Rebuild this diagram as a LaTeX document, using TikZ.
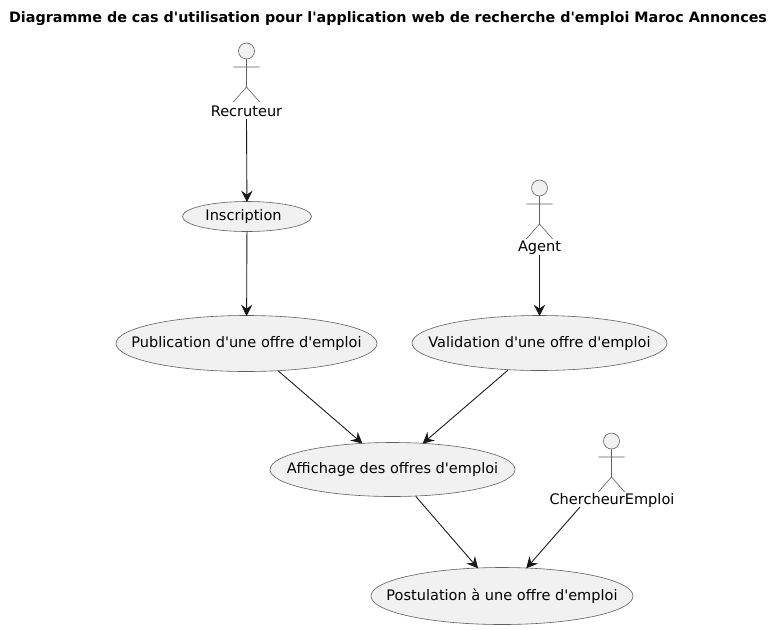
\documentclass[tikz,border=0pt]{standalone}
\usepackage{fontspec}
\setmainfont{DejaVu Sans}[Ligatures=TeXOff]
\usetikzlibrary{shapes.geometric,arrows.meta}
\definecolor{fillc}{HTML}{F1F1F1}
\definecolor{linec}{HTML}{181818}
\definecolor{thinc}{HTML}{606060}
\tikzset{x=0.75pt,y=-0.75pt,
 lbl/.style={font=\fontsize{10.9pt}{13pt}\selectfont,text=black,inner sep=0pt},
 uc/.style={ellipse,draw=thinc,fill=fillc,line width=0.45pt,lbl,inner xsep=-40pt,inner ysep=0pt},
 conn/.style={draw=linec,line width=0.65pt,shorten >=-0.6pt,-{Stealth[length=8.5pt,width=8.5pt,inset=3pt]}},
 actorhead/.style={draw=thinc,fill=fillc,line width=0.45pt},
 actorbody/.style={draw=thinc,line width=0.45pt}}
\newcommand{\actorfig}[2]{%
 \draw[actorhead] (#1,#2) circle[radius=8];
 \draw[actorbody] (#1,#2+8) -- (#1,#2+36) (#1-13.2,#2+16) -- (#1+13.2,#2+16) (#1-13.2,#2+51) -- (#1,#2+36) -- (#1+13.2,#2+51);
}
\begin{document}
\begin{tikzpicture}
\useasboundingbox (0,0) rectangle (784,629);
\fill[white] (0,0) rectangle (784,629);
\node[inner sep=0pt,text=black,font=\fontsize{10.74pt}{13pt}\selectfont\bfseries] (title) at (388,18.5) {Diagramme de cas d'utilisation pour l'application web de recherche d'emploi Maroc Annonces};
\actorfig{246.5}{51}
\actorfig{539.5}{188}
\actorfig{611.5}{441}
\node[lbl] (rec) at (246.5,111) {Recruteur};
\node[lbl] (ag) at (539.5,248) {Agent};
\node[lbl] (ce) at (612,500.5) {ChercheurEmploi};
\coordinate (recout) at (246.5,119);
\coordinate (agout) at (539.5,255);
\coordinate (ceout) at (580,507);
\node[uc,minimum width=129*0.75pt,minimum height=30*0.75pt] (ins) at (247,216.5) {Inscription\hspace{5.2pt}\mbox{}};
\node[uc,minimum width=261*0.75pt,minimum height=56*0.75pt] (pub) at (246.5,343.5) {Publication d'une offre d'emploi};
\node[uc,minimum width=255*0.75pt,minimum height=55*0.75pt] (val) at (539.5,343) {Validation d'une offre d'emploi};
\node[uc,minimum width=245*0.75pt,minimum height=54*0.75pt] (aff) at (392.5,469.5) {Affichage des offres d'emploi};
\node[uc,minimum width=262*0.75pt,minimum height=57*0.75pt] (pos) at (502,596) {Postulation à une offre d'emploi};
\draw[conn] (recout) -- (ins);
\draw[conn] (ins) -- (pub);
\draw[conn] (agout) -- (val);
\draw[conn] (pub) -- (aff);
\draw[conn] (val) -- (aff);
\draw[conn] (aff) -- (pos);
\draw[conn] (ceout) -- (pos);
\end{tikzpicture}
\end{document}
